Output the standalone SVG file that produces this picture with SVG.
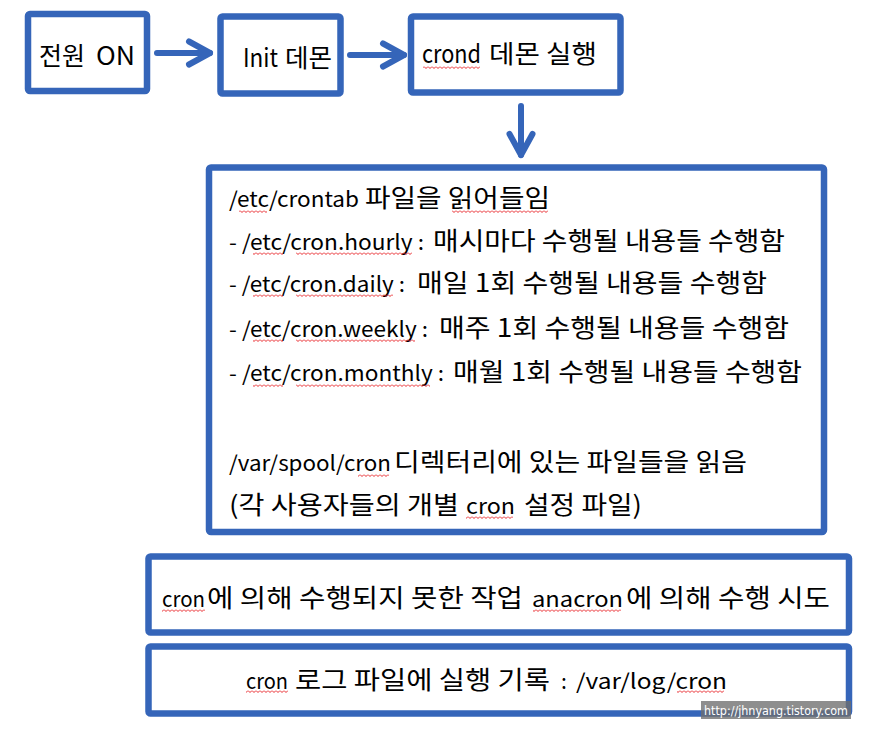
<svg xmlns="http://www.w3.org/2000/svg" width="892" height="731" viewBox="0 0 892 731">
  <style>
    .box { fill: #ffffff; stroke: #3565b9; stroke-width: 6.5; }
    .lat { font-family: "Noto Sans CJK KR", "Noto Sans", sans-serif; font-size: 21px; fill: #000000; }
    .kor { font-family: "Noto Sans CJK KR", "Noto Sans", sans-serif; font-size: 25px; fill: #000000; }
    .top { font-size: 25px; }
    .conn { fill: none; stroke: #3565b9; stroke-width: 6; stroke-linecap: round; }
    .sq { fill: url(#wave); }
    .wm { font-family: "DejaVu Sans", sans-serif; font-size: 13px; fill: #ffffff; }
  </style>
  <defs>
    <pattern id="wave" x="0" y="0" width="4" height="3" patternUnits="userSpaceOnUse">
      <path d="M0,0.5 L2,2.5 L4,0.5" fill="none" stroke="#e8262a" stroke-width="1"/>
    </pattern>
    <marker id="chev" markerUnits="userSpaceOnUse" viewBox="-26 -16 32 32" markerWidth="32" markerHeight="32" refX="0" refY="0" orient="auto">
      <path d="M-21,-11.5 L0,0 L-21,11.5" fill="none" stroke="#3565b9" stroke-width="6" stroke-linecap="round" stroke-linejoin="round"/>
    </marker>
  </defs>
  <rect width="892" height="731" fill="#ffffff"/>

  <g id="connectors">
    <line class="conn" x1="157" y1="53" x2="210" y2="53" marker-end="url(#chev)"/>
    <line class="conn" x1="350" y1="55" x2="404" y2="55" marker-end="url(#chev)"/>
    <line class="conn" x1="521" y1="106" x2="521" y2="155" marker-end="url(#chev)"/>
  </g>

  <g id="node-power">
    <rect class="box" x="28" y="14" width="119" height="77" rx="2"/>
    <text class="kor" x="39" y="65" textLength="46" lengthAdjust="spacingAndGlyphs">전원</text>
    <text class="lat top" x="96" y="65" textLength="39" lengthAdjust="spacingAndGlyphs">ON</text>
  </g>

  <g id="node-init">
    <rect class="box" x="220.5" y="16.5" width="120" height="77" rx="2"/>
    <text class="lat top" x="243" y="67" textLength="35" lengthAdjust="spacingAndGlyphs">Init</text>
    <text class="kor" x="285" y="67" textLength="47" lengthAdjust="spacingAndGlyphs">데몬</text>
  </g>

  <g id="node-crond">
    <rect class="box" x="411" y="16.5" width="209.5" height="76" rx="2"/>
    <text class="lat top" x="422" y="63" textLength="59" lengthAdjust="spacingAndGlyphs">crond</text>
    <text class="kor" x="489" y="63" textLength="108" lengthAdjust="spacingAndGlyphs">데몬 실행</text>
    <rect class="sq" x="423" y="66" width="57" height="3"/>
  </g>

  <g id="node-crontab">
    <rect class="box" x="209" y="167.5" width="615" height="364.5" rx="2"/>
    <text class="lat" x="229" y="207" textLength="130" lengthAdjust="spacingAndGlyphs">/etc/crontab</text>
    <text class="kor" x="365" y="207" textLength="185" lengthAdjust="spacingAndGlyphs">파일을 읽어들임</text>

    <text class="lat" x="229" y="250" textLength="195" lengthAdjust="spacingAndGlyphs">- /etc/cron.hourly :</text>
    <text class="kor" x="433" y="250" textLength="352" lengthAdjust="spacingAndGlyphs">매시마다 수행될 내용들 수행함</text>

    <text class="lat" x="229" y="292" textLength="176" lengthAdjust="spacingAndGlyphs">- /etc/cron.daily :</text>
    <text class="kor" x="417" y="292" textLength="350" lengthAdjust="spacingAndGlyphs">매일 1회 수행될 내용들 수행함</text>

    <text class="lat" x="229" y="337" textLength="199" lengthAdjust="spacingAndGlyphs">- /etc/cron.weekly :</text>
    <text class="kor" x="439" y="337" textLength="350" lengthAdjust="spacingAndGlyphs">매주 1회 수행될 내용들 수행함</text>

    <text class="lat" x="229" y="381" textLength="215" lengthAdjust="spacingAndGlyphs">- /etc/cron.monthly :</text>
    <text class="kor" x="453" y="381" textLength="349" lengthAdjust="spacingAndGlyphs">매월 1회 수행될 내용들 수행함</text>

    <text class="lat" x="229" y="471" textLength="162" lengthAdjust="spacingAndGlyphs">/var/spool/cron</text>
    <text class="kor" x="394" y="471" textLength="353" lengthAdjust="spacingAndGlyphs">디렉터리에 있는 파일들을 읽음</text>

    <text class="kor" x="229" y="514" textLength="230" lengthAdjust="spacingAndGlyphs">(각 사용자들의 개별</text>
    <text class="lat" x="466" y="514" textLength="49" lengthAdjust="spacingAndGlyphs">cron</text>
    <text class="kor" x="524" y="514" textLength="118" lengthAdjust="spacingAndGlyphs">설정 파일)</text>

    <rect class="sq" x="239" y="210" width="28" height="3"/>
    <rect class="sq" x="452" y="210" width="96" height="3"/>
    <rect class="sq" x="253" y="252" width="30" height="3"/>
    <rect class="sq" x="296" y="252" width="116" height="3"/>
    <rect class="sq" x="253" y="294" width="30" height="3"/>
    <rect class="sq" x="296" y="294" width="97" height="3"/>
    <rect class="sq" x="253" y="339" width="30" height="3"/>
    <rect class="sq" x="296" y="339" width="119" height="3"/>
    <rect class="sq" x="253" y="384" width="30" height="3"/>
    <rect class="sq" x="296" y="384" width="134" height="3"/>
    <rect class="sq" x="358" y="474" width="31" height="3"/>
    <rect class="sq" x="466" y="516" width="47" height="3"/>
  </g>

  <g id="node-anacron">
    <rect class="box" x="148.5" y="556.5" width="700.5" height="76" rx="2"/>
    <text class="lat" x="162" y="607" textLength="43" lengthAdjust="spacingAndGlyphs">cron</text>
    <text class="kor" x="207" y="607" textLength="316" lengthAdjust="spacingAndGlyphs">에 의해 수행되지 못한 작업</text>
    <text class="lat" x="532" y="607" textLength="91" lengthAdjust="spacingAndGlyphs">anacron</text>
    <text class="kor" x="626" y="607" textLength="204" lengthAdjust="spacingAndGlyphs">에 의해 수행 시도</text>
    <rect class="sq" x="533" y="609" width="88" height="3"/>
    <rect class="sq" x="162" y="609" width="43" height="3"/>
  </g>

  <g id="node-log">
    <rect class="box" x="148.5" y="646.5" width="700.5" height="67" rx="2"/>
    <text class="lat" x="246" y="689" textLength="42" lengthAdjust="spacingAndGlyphs">cron</text>
    <text class="kor" x="295" y="689" textLength="255" lengthAdjust="spacingAndGlyphs">로그 파일에 실행 기록</text>
    <text class="lat" x="561" y="689">:</text>
    <text class="lat" x="576" y="689" textLength="151" lengthAdjust="spacingAndGlyphs">/var/log/cron</text>
    <rect class="sq" x="246" y="690" width="42" height="3"/>
    <rect class="sq" x="677" y="690" width="47" height="3"/>
  </g>

  <g id="watermark">
    <rect x="701" y="701" width="150" height="18" fill="#6e6e6e" fill-opacity="0.78"/>
    <text class="wm" x="704" y="715" textLength="144" lengthAdjust="spacingAndGlyphs">http://jhnyang.tistory.com</text>
  </g>
</svg>
